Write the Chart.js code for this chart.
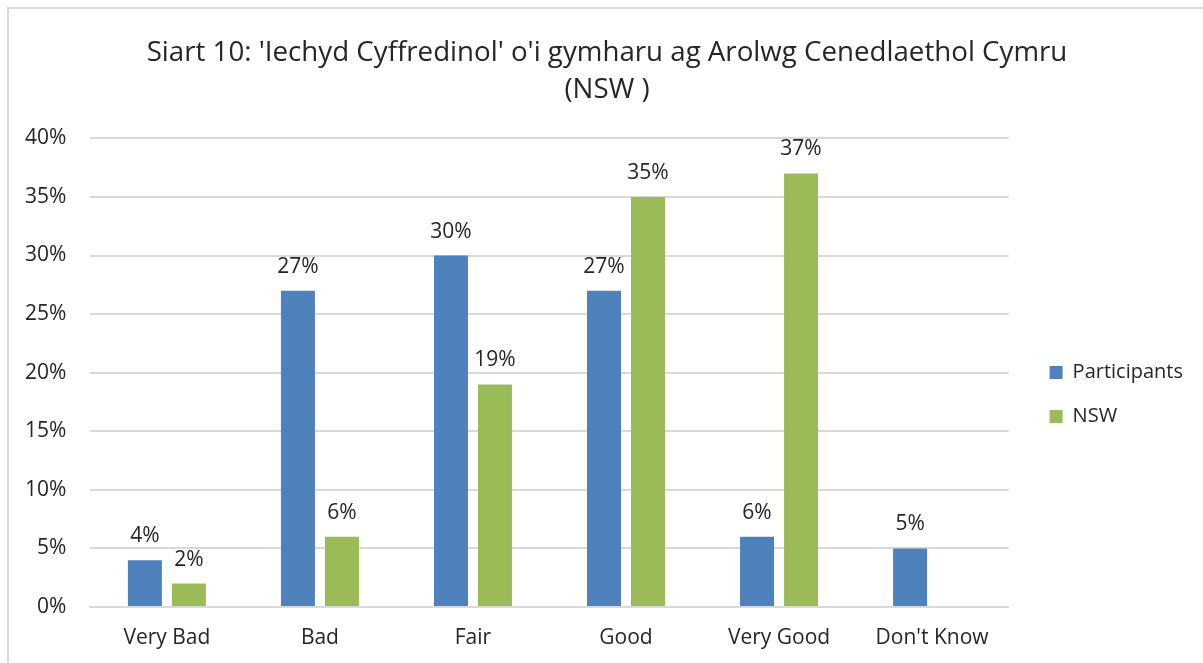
<!DOCTYPE html>
<html>
<head>
<meta charset="utf-8">
<script src="https://cdn.jsdelivr.net/npm/chart.js@4"></script>
<style>
html,body{margin:0;padding:0;background:#fff;}
#wrap{position:relative;width:1203px;height:663px;overflow:hidden;}
#frame{position:absolute;left:7px;top:7px;width:1300px;height:800px;border:2px solid #d9d9d9;box-sizing:border-box;}
canvas{position:absolute;left:0;top:0;}
</style>
</head>
<body>
<div id="wrap"><div id="frame"></div><canvas id="c" width="1203" height="663"></canvas></div>
<script>
const categories = ["Very Bad", "Bad", "Fair", "Good", "Very Good", "Don't Know"];
const participants = [4, 27, 30, 27, 6, 5];
const nsw = [2, 6, 19, 35, 37, null];
const yTicks = [0, 5, 10, 15, 20, 25, 30, 35, 40];
const titleLines = ["Siart 10: 'Iechyd Cyffredinol' o'i gymharu ag Arolwg Cenedlaethol Cymru", "(NSW )"];

const FONT = "'Open Sans', 'Noto Sans', sans-serif";
const TXT = '#262626';

const labelPlugin = {
  id: 'barLabels',
  afterLayout(chart) {
    const t = chart.titleBlock;
    if (t) { t.left += 18.5; t.right += 18.5; }
    const l = chart.legend;
    if (l) { l.left += 17; l.right += 17; }
  },
  afterDatasetsDraw(chart) {
    const ctx = chart.ctx;
    ctx.save();
    ctx.font = '21px ' + FONT;
    ctx.fillStyle = TXT;
    ctx.textAlign = 'center';
    ctx.textBaseline = 'alphabetic';
    chart.data.datasets.forEach((ds, i) => {
      const meta = chart.getDatasetMeta(i);
      meta.data.forEach((bar, j) => {
        const v = ds.data[j];
        if (v === null || v === undefined) return;
        ctx.fillText(v + '%', bar.x, bar.y - 18);
      });
    });
    ctx.restore();
  }
};

new Chart(document.getElementById('c'), {
  type: 'bar',
  data: {
    labels: categories,
    datasets: [
      { label: 'Participants', data: participants, backgroundColor: '#4f81bd', borderColor: '#4f81bd', borderWidth: 0 },
      { label: 'NSW', data: nsw, backgroundColor: '#9bbb59', borderColor: '#9bbb59', borderWidth: 0 }
    ]
  },
  options: {
    responsive: false,
    animation: false,
    devicePixelRatio: 1,
    layout: { padding: { left: 1, right: 27, top: 10, bottom: -6 } },
    datasets: { bar: { categoryPercentage: 0.575, barPercentage: 0.773 } },
    plugins: {
      title: {
        display: true,
        text: titleLines,
        color: TXT,
        font: { family: FONT, size: 27.7, weight: 'normal', lineHeight: 1.36 },
        padding: { top: 24, bottom: 29 }
      },
      legend: {
        position: 'right',
        title: { display: true, text: ' ', padding: { top: 42, bottom: 44 }, font: { size: 20 } },
        labels: {
          color: TXT,
          font: { family: FONT, size: 20 },
          boxWidth: 13, boxHeight: 13,
          padding: 24
        }
      },
      tooltip: { enabled: false }
    },
    scales: {
      x: {
        grid: { display: false, drawTicks: false },
        border: { color: '#d9d9d9', width: 2 },
        ticks: { color: TXT, font: { family: FONT, size: 21 }, padding: 18.4 }
      },
      y: {
        min: 0, max: 40,
        afterBuildTicks(axis) { axis.ticks = yTicks.map(v => ({ value: v })); },
        grid: { color: '#d9d9d9', lineWidth: 2, drawTicks: false },
        border: { display: false },
        ticks: { color: TXT, font: { family: FONT, size: 21 }, padding: 24, callback: v => v + '%' }
      }
    }
  },
  plugins: [labelPlugin]
});
</script>
</body>
</html>
